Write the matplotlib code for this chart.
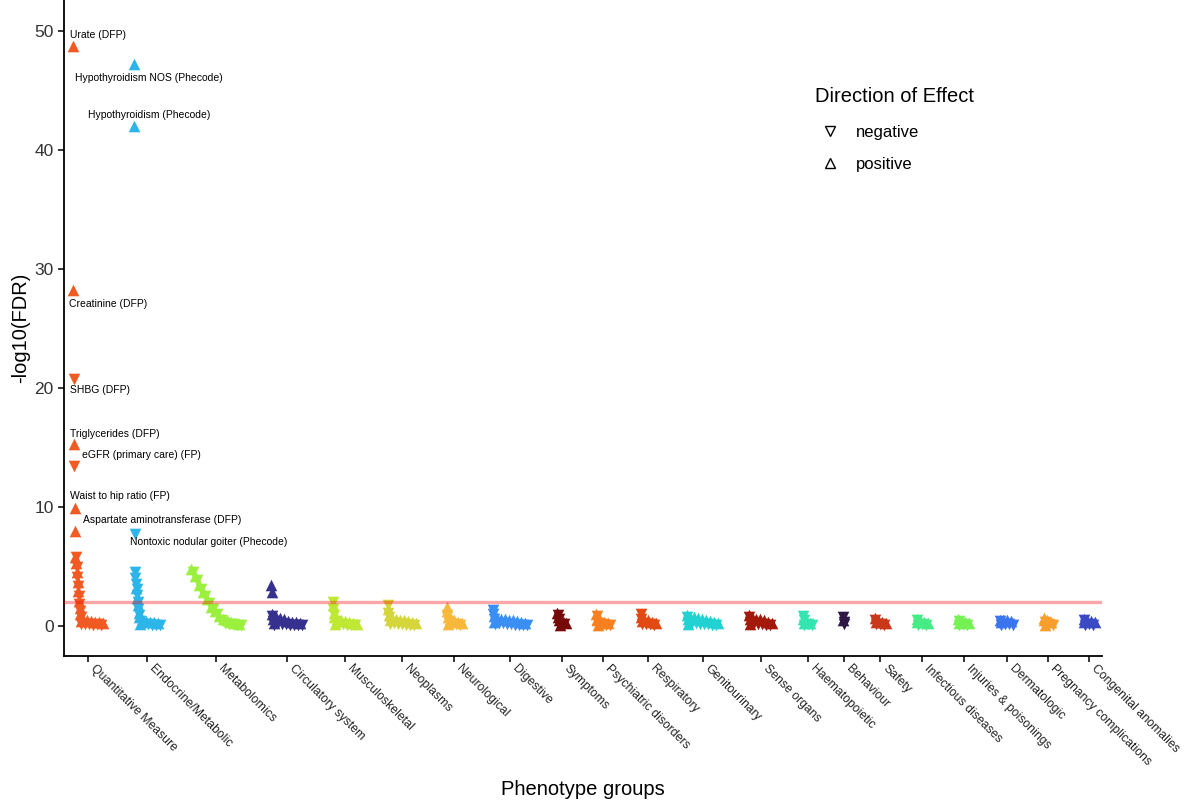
import matplotlib.pyplot as plt
import matplotlib.transforms as mtransforms
from matplotlib.lines import Line2D

plt.rcParams['font.family'] = ['Liberation Sans', 'DejaVu Sans']

groups = ['Quantitative Measure', 'Endocrine/Metabolic', 'Metabolomics', 'Circulatory system',
          'Musculoskeletal', 'Neoplasms', 'Neurological', 'Digestive', 'Symptoms',
          'Psychiatric disorders', 'Respiratory', 'Genitourinary', 'Sense organs',
          'Haematopoietic', 'Behaviour', 'Safety', 'Infectious diseases',
          'Injuries & poisonings', 'Dermatologic', 'Pregnancy complications',
          'Congenital anomalies']

colors = ['#F15A22', '#2BB5E8', '#9BF03E', '#36318F', '#BEE834', '#D5D63C', '#F8B83C',
          '#3A8FF5', '#760A08', '#F8801E', '#E24A14', '#22D2D2', '#A3190A', '#34E5B2',
          '#2E1846', '#C9381A', '#45EC86', '#76F154', '#3A74EE', '#F89E2C', '#3A4AC4']

# -log10(FDR) per phenotype within each group.
# sign = direction of effect (negative number -> negative effect)
# "top" = the strongest hits of a group, "tail" = the many weak ones
top_values = [
    [48.7, 28.2, -20.7, 15.3, -13.4, 9.9, 8.0, 5.8, -5.8, 5.3, -4.9, 4.5, -4.1, 3.7, -3.3,
     2.9, -2.5, 2.1, -1.8, 1.5, -1.2, 1.0, -0.7, 0.4, -0.1],              # Quantitative
    [47.2, 42.0, -7.7, -4.5, -4.0, -3.5, 3.2, -3.1, -2.6, 2.3, -2.0, 1.7, -1.4, 1.1, -0.9,
     0.7, -0.4, 0.1],                                                       # Endocrine
    [],                                                                     # Metabolomics
    [3.4, 2.8, 0.95, -0.8, 0.6, -0.4, 0.2, -0.05],                          # Circulatory
    [-2.0, 1.7, -1.4, 1.1, -0.9, 0.7, -0.4, 0.15],                          # Musculoskeletal
    [-1.7, 1.4, -1.1, 0.9, -0.7, 0.45, -0.15],                              # Neoplasms
    [1.6, 1.2, -0.9, 0.7, -0.4, 0.15],                                      # Neurological
    [-1.3, -1.0, 0.8, -0.6, 0.35, -0.1],                                    # Digestive
    [1.1, -0.9, 0.75, -0.6, 0.45, -0.25, 0.05],                             # Symptoms
    [1.0, -0.8, 0.6, 0.45, -0.2, 0.05],                                     # Psychiatric
    [-0.95, 0.75, -0.6, 0.4, -0.15],                                        # Respiratory
    [0.9, -0.75, 0.6, -0.35, 0.1],                                          # Genitourinary
    [0.9, -0.75, 0.6, -0.3, 0.1],                                           # Sense organs
    [-0.8, 0.6, -0.45, 0.25, -0.05],                                        # Haematopoietic
    [-0.75, 0.45, -0.35, -0.15],                                            # Behaviour
    [0.65, -0.5, 0.35, -0.1],                                               # Safety
    [0.6, -0.45, 0.3, -0.05],                                               # Infectious
    [0.55, -0.4, 0.25, -0.05],                                              # Injuries
    [0.5, -0.4, 0.3, -0.05],                                                # Dermatologic
    [0.65, 0.45, -0.3, 0.05],                                               # Pregnancy
    [0.55, -0.45, 0.3, -0.05],                                              # Congenital
]

tail_values = [
    [0.6, -0.15, 0.5, -0.1, 0.42, -0.08, 0.35, -0.1, 0.28, -0.05, 0.2],
    [0.5, -0.15, 0.42, -0.1, 0.35, -0.08, 0.28, -0.05, 0.2, -0.05],
    [4.8, -4.5, 4.2, -3.8, 3.4, -3.1, 2.8, -2.5, 2.2, -1.9, 1.6, -1.4, 1.2, -1.0, 0.8,
     -0.5, 0.6, -0.25, 0.45, -0.15, 0.35, -0.1, 0.25, -0.08, 0.18, -0.05],
    [0.75, -0.2, 0.62, -0.15, 0.52, -0.1, 0.42, -0.08, 0.35, -0.05, 0.27, -0.05, 0.2, -0.05],
    [0.55, -0.15, 0.45, -0.1, 0.38, -0.08, 0.3, -0.05, 0.22, -0.05, 0.15],
    [0.65, -0.2, 0.58, -0.15, 0.5, -0.1, 0.44, -0.08, 0.38, -0.06, 0.3, -0.05, 0.22],
    [0.55, -0.15, 0.45, -0.1, 0.35, -0.05, 0.25],
    [0.65, -0.25, 0.6, -0.2, 0.55, -0.15, 0.5, -0.1, 0.45, -0.08, 0.38, -0.06, 0.3, -0.05,
     0.22, -0.05],
    [0.4, -0.1, 0.25],
    [0.45, -0.12, 0.32, -0.08, 0.22, -0.05],
    [0.55, -0.15, 0.45, -0.1, 0.35, -0.08, 0.25],
    [0.75, -0.25, 0.7, -0.2, 0.62, -0.15, 0.55, -0.12, 0.48, -0.1, 0.4, -0.08, 0.32, -0.05,
     0.25],
    [0.7, -0.2, 0.6, -0.15, 0.52, -0.1, 0.45, -0.08, 0.35, -0.05, 0.25],
    [0.35, -0.1, 0.25, -0.05],
    [],
    [0.45, -0.1, 0.35, -0.05, 0.25],
    [0.45, -0.1, 0.35, -0.05, 0.25],
    [0.4, -0.1, 0.3, -0.05, 0.22],
    [0.5, -0.15, 0.45, -0.1, 0.38, -0.08],
    [0.45, -0.1, 0.35, -0.05],
    [0.5, -0.12, 0.4, -0.08, 0.3],
]

# labelled hits: (group index, position in top list, text)
labels = [
    (0, 0, 'Urate (DFP)'),
    (0, 1, 'Creatinine (DFP)'),
    (0, 2, 'SHBG (DFP)'),
    (0, 3, 'Triglycerides (DFP)'),
    (0, 4, 'eGFR (primary care) (FP)'),
    (0, 5, 'Waist to hip ratio (FP)'),
    (0, 6, 'Aspartate aminotransferase (DFP)'),
    (1, 0, 'Hypothyroidism NOS (Phecode)'),
    (1, 1, 'Hypothyroidism (Phecode)'),
    (1, 2, 'Nontoxic nodular goiter (Phecode)'),
]
# label offsets in pixels from their point (repel-style placement)
label_offsets = [(-3, 11), (-4, -14), (-4, -11), (-4, 10), (8, 11), (-5, 12), (8, 11),
                 (-59, -14), (-46, 11), (-5, -8)]

top_step, tail_step, gap = 0.35, 2.0, 30.7

fig = plt.figure(figsize=(11.84, 8.05), dpi=100)
ax = fig.add_axes([64 / 1184, 149 / 805, 1038 / 1184, 656 / 805])

x = 9.0
ticks = []
positions = []
for g in range(len(groups)):
    xs = []
    for v in top_values[g]:
        xs.append(x)
        x += top_step
    if xs:
        x = xs[-1] + tail_step
    for v in tail_values[g]:
        xs.append(x)
        x += tail_step
    vals = top_values[g] + tail_values[g]
    positions.append(xs)
    ticks.append((xs[0] + xs[-1]) / 2)
    up_x = [xi for xi, v in zip(xs, vals) if v >= 0]
    up_y = [v for v in vals if v >= 0]
    dn_x = [xi for xi, v in zip(xs, vals) if v < 0]
    dn_y = [-v for v in vals if v < 0]
    ax.scatter(up_x, up_y, marker='^', s=70, color=colors[g], linewidths=0, zorder=2)
    ax.scatter(dn_x, dn_y, marker='v', s=70, color=colors[g], linewidths=0, zorder=2)
    x = xs[-1] + gap

ax.axhline(2, color='red', alpha=0.35, lw=2.4, zorder=3)

for (g, i, text), (dx, dy) in zip(labels, label_offsets):
    ax.annotate(text, (positions[g][i], abs(top_values[g][i])), xytext=(dx, dy),
                textcoords='offset pixels', fontsize=7.5, ha='left', va='center',
                color='black')

ax.set_xlim(0, 1038)
ax.set_ylim(-2.55, 52.6)
ax.set_yticks([0, 10, 20, 30, 40, 50])
ax.set_xticks(ticks)
ax.set_xticklabels(groups, rotation=-45, rotation_mode='default', ha='left', va='top',
                   fontsize=8.8, color='#222222')
shift = mtransforms.ScaledTranslation(-4 / 100, 0, fig.dpi_scale_trans)
for lab in ax.get_xticklabels():
    lab.set_transform(lab.get_transform() + shift)
ax.tick_params(axis='y', labelsize=12.5, labelcolor='#333333', length=4, width=1.1)
ax.tick_params(axis='x', length=4, width=1.1, pad=1)
for side in ['top', 'right']:
    ax.spines[side].set_visible(False)
for side in ['left', 'bottom']:
    ax.spines[side].set_linewidth(1.3)

ax.set_ylabel('-log10(FDR)', fontsize=14.5, labelpad=3)
fig.text(583 / 1184, 1 - 789 / 805, 'Phenotype groups', fontsize=14.5, ha='center', va='center')

# legend: title drawn separately for exact spacing
fig.text(815 / 1184, 1 - 96 / 805, 'Direction of Effect', fontsize=14.5, ha='left', va='center')
handles = [Line2D([], [], marker='v', ls='none', mfc='none', mec='black', ms=7, mew=1),
           Line2D([], [], marker='^', ls='none', mfc='none', mec='black', ms=7, mew=1)]
fig.legend(handles, ['negative', 'positive'], loc='upper left',
           bbox_to_anchor=(815 / 1184, 1 - 125 / 805), frameon=False, fontsize=12,
           borderpad=0, borderaxespad=0, handlelength=1.8, handletextpad=0.65,
           labelspacing=1.0)

fig.savefig('out.png', dpi=100)
